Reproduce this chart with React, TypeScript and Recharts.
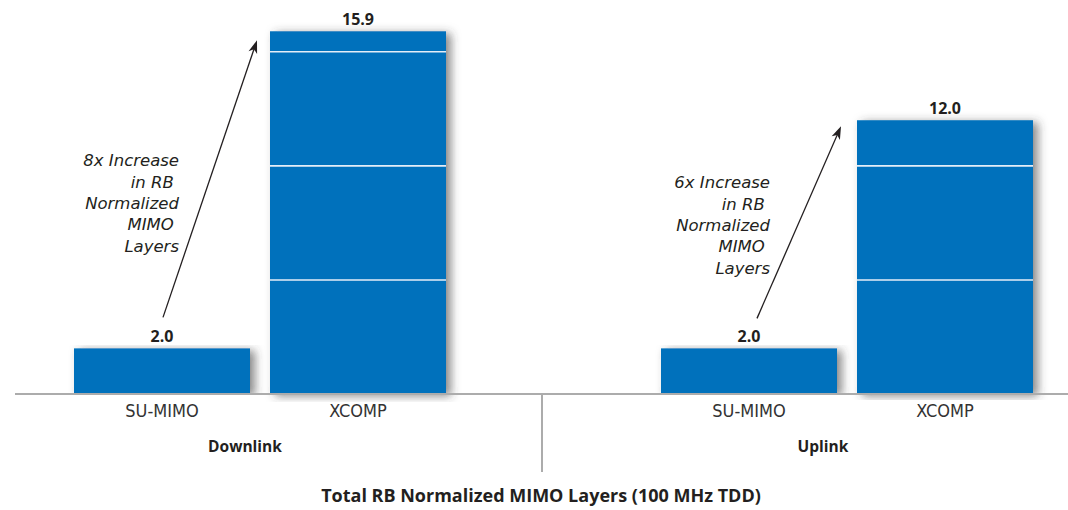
import React from 'react';
import { BarChart, Bar, XAxis, YAxis, LabelList } from 'recharts';

// values
const categories = ['SU-MIMO', 'XCOMP'];
const downlinkValues = [2.0, 15.9];
const uplinkValues = [2.0, 12.0];
const gridValues = [5, 10, 15];
const groupNames = ['Downlink', 'Uplink'];
const annotationLines = [
  ['8x Increase', 'in RB\u00a0', 'Normalized', 'MIMO\u00a0', 'Layers'],
  ['6x Increase', 'in RB\u00a0', 'Normalized', 'MIMO\u00a0', 'Layers'],
];
const chartTitle = 'Total RB Normalized MIMO Layers (100 MHz TDD)';
const Y_MAX = 16;

const BAR_COLOR = '#0071bc';
const AXIS_COLOR = '#acacac';
const TEXT_DARK = '#231f20';
const BAR_SIZE = 176;
const BAND = 196;
const BOLD_FONT = "'Open Sans', 'DejaVu Sans', sans-serif";
const TICK_FONT = "'Liberation Sans Narrow', 'DejaVu Sans Condensed', 'Open Sans', sans-serif";
const ITALIC_FONT = "'DejaVu Sans', 'Open Sans', sans-serif";
const SHADOW_ID = 'barShadow';

const panels = [
  {
    left: 0,
    width: 541,
    marginLeft: 15,
    padding: { left: 49, right: 85 },
    labelX: 245,
    values: downlinkValues,
    arrow: { tailDx: 1, tailDy: -31, tipDx: -13, tipDy: 9 },
    text: { dx: 17, dy: -182 },
  },
  {
    left: 541,
    width: 527,
    marginLeft: 0,
    padding: { left: 110, right: 25 },
    labelX: 823,
    values: uplinkValues,
    arrow: { tailDx: 8, tailDy: -30, tipDx: -16, tipDy: 6 },
    text: { dx: 21, dy: -160 },
  },
];

function GridBar(props: any) {
  const { x, y, width, height, payload } = props;
  const v = payload.value;
  const perUnit = height / v;
  const base = y + height;
  return (
    <g>
      <rect x={x} y={y} width={width} height={height} fill={BAR_COLOR} filter={`url(#${SHADOW_ID})`} />
      {gridValues
        .filter((g) => g < v)
        .map((g) => (
          <line
            key={g}
            x1={x}
            x2={x + width}
            y1={base - g * perUnit}
            y2={base - g * perUnit}
            stroke="#e4eef8"
            strokeWidth={1.6}
          />
        ))}
    </g>
  );
}

function Annotation(props: any) {
  const { index, panel } = props;
  if (index !== 0) return null;
  const vb = props.viewBox ?? props;
  const { x, y, width, height } = vb;
  const values: number[] = panel.values;
  const perUnit = height / values[0];
  const base = y + height;
  const center = x + width / 2;
  // tail sits above the first bar, tip next to the top of the second one
  const sx = center + panel.arrow.tailDx;
  const sy = y + panel.arrow.tailDy;
  const nextLeft = x + BAND;
  const tx = nextLeft + panel.arrow.tipDx;
  const ty = base - values[1] * perUnit + panel.arrow.tipDy;
  const len = Math.hypot(tx - sx, ty - sy);
  const ux = (tx - sx) / len;
  const uy = (ty - sy) / len;
  const nx = -uy;
  const ny = ux;
  const hl = 13;
  const hw = 4.5;
  const head = [
    [tx, ty],
    [tx - ux * hl + nx * hw, ty - uy * hl + ny * hw],
    [tx - ux * (hl - 3.5), ty - uy * (hl - 3.5)],
    [tx - ux * hl - nx * hw, ty - uy * hl - ny * hw],
  ]
    .map((p) => p.join(','))
    .join(' ');
  const lines: string[] = panel.lines;
  const textX = center + panel.text.dx;
  return (
    <g>
      <line x1={sx} y1={sy} x2={tx - ux * 9} y2={ty - uy * 9} stroke={TEXT_DARK} strokeWidth={1.3} />
      <polygon points={head} fill={TEXT_DARK} />
      {lines.map((l, i) => (
        <text
          key={i}
          x={textX}
          y={y + panel.text.dy + i * 21.3}
          textAnchor="end"
          fill={TEXT_DARK}
          fontSize={16.5}
          fontStyle="italic"
          fontFamily={ITALIC_FONT}
        >
          {l}
        </text>
      ))}
    </g>
  );
}

function Panel({ panel, idx }: { panel: any; idx: number }) {
  const data = categories.map((name, i) => ({ name, value: panel.values[i] }));
  return (
    <div style={{ position: 'absolute', left: panel.left, top: 0 }}>
      <BarChart
        width={panel.width}
        height={510}
        data={data}
        margin={{ top: 29, right: 0, bottom: 0, left: panel.marginLeft }}
        barSize={BAR_SIZE}
      >
        <XAxis
          dataKey="name"
          interval={0}
          height={116}
          padding={panel.padding}
          tickLine={false}
          tickMargin={4}
          axisLine={{ stroke: AXIS_COLOR, strokeWidth: 2 }}
          tick={{ fill: '#333333', fontSize: 18, fontFamily: TICK_FONT }}
        />
        <YAxis hide type="number" domain={[0, Y_MAX]} />
        <Bar dataKey="value" isAnimationActive={false} shape={(p: any) => <GridBar {...p} />}>
          <LabelList
            dataKey="value"
            position="top"
            offset={6}
            formatter={(v: any) => Number(v).toFixed(1)}
            style={{ fill: TEXT_DARK, fontSize: 16, fontWeight: 700, fontFamily: BOLD_FONT }}
          />
          <LabelList
            dataKey="value"
            content={(p: any) => (
              <Annotation {...p} panel={{ ...panel, lines: annotationLines[idx] }} />
            )}
          />
        </Bar>
      </BarChart>
    </div>
  );
}

export default function App() {
  return (
    <div
      style={{
        position: 'relative',
        width: 1068,
        height: 510,
        background: '#ffffff',
        overflow: 'hidden',
      }}
    >
      <style>{'body{margin:0}'}</style>
      <svg width={0} height={0} style={{ position: 'absolute' }}>
        <defs>
          <filter id={SHADOW_ID} x="-20%" y="-10%" width="140%" height="112%">
            <feGaussianBlur in="SourceAlpha" stdDeviation={5} />
            <feOffset dx={5} dy={2} result="blur" />
            <feFlood floodColor="#3a3a3a" floodOpacity={0.6} />
            <feComposite in2="blur" operator="in" />
            <feMerge>
              <feMergeNode />
              <feMergeNode in="SourceGraphic" />
            </feMerge>
          </filter>
        </defs>
      </svg>
      {panels.map((p, i) => (
        <Panel key={i} panel={p} idx={i} />
      ))}
      <div
        style={{
          position: 'absolute',
          left: 541,
          top: 393,
          width: 2,
          height: 79,
          background: AXIS_COLOR,
        }}
      />
      <svg
        width={1068}
        height={510}
        style={{ position: 'absolute', left: 0, top: 0, pointerEvents: 'none' }}
      >
        {groupNames.map((g, i) => (
          <text
            key={g}
            x={panels[i].labelX}
            y={452}
            textAnchor="middle"
            fill={TEXT_DARK}
            fontSize={15.5}
            fontWeight={700}
            fontFamily={BOLD_FONT}
          >
            {g}
          </text>
        ))}
        <text
          x={541}
          y={502}
          textAnchor="middle"
          fill={TEXT_DARK}
          fontSize={18}
          fontWeight={700}
          fontFamily={BOLD_FONT}
        >
          {chartTitle}
        </text>
      </svg>
    </div>
  );
}
